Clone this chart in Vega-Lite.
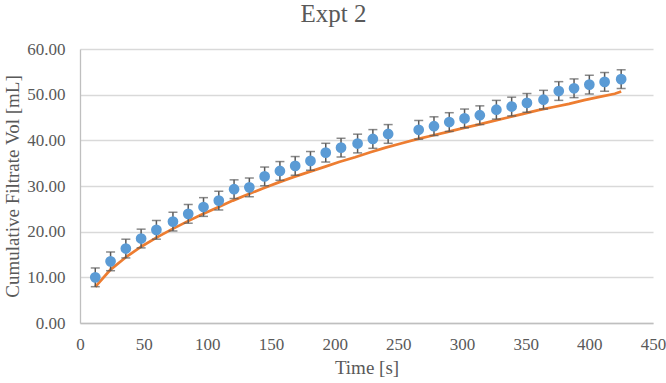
{
  "$schema": "https://vega.github.io/schema/vega-lite/v6.json",
  "width": 573,
  "height": 274,
  "autosize": {"type": "none"},
  "padding": {"left": 80, "top": 49, "right": 13, "bottom": 60},
  "background": "white",
  "title": {
    "text": "Expt 2",
    "font": "Liberation Serif",
    "fontSize": 25,
    "fontWeight": "normal",
    "color": "#595959",
    "anchor": "middle",
    "dx": -33,
    "offset": 13
  },
  "config": {
    "view": {"stroke": null},
    "axis": {
      "labelFont": "Liberation Serif",
      "titleFont": "Liberation Serif",
      "labelColor": "#595959",
      "titleColor": "#595959",
      "labelFontSize": 17,
      "titleFontSize": 19,
      "titleFontWeight": "normal",
      "labelFlush": false,
      "gridColor": "#D9D9D9",
      "gridWidth": 1.3,
      "domainColor": "#BFBFBF",
      "domainWidth": 1.3,
      "ticks": false
    }
  },
  "datasets": {
    "measured": [
      {"t": 12, "vol": 10.0, "err": 2.05},
      {"t": 24, "vol": 13.5, "err": 2.05},
      {"t": 36, "vol": 16.3, "err": 2.05},
      {"t": 48, "vol": 18.5, "err": 2.05},
      {"t": 60, "vol": 20.4, "err": 2.05},
      {"t": 73, "vol": 22.2, "err": 2.05},
      {"t": 85, "vol": 23.9, "err": 2.05},
      {"t": 97, "vol": 25.4, "err": 2.05},
      {"t": 109, "vol": 26.8, "err": 2.05},
      {"t": 121, "vol": 29.3, "err": 2.05},
      {"t": 133, "vol": 29.7, "err": 2.05},
      {"t": 145, "vol": 32.1, "err": 2.05},
      {"t": 157, "vol": 33.3, "err": 2.05},
      {"t": 169, "vol": 34.4, "err": 2.05},
      {"t": 181, "vol": 35.5, "err": 2.05},
      {"t": 193, "vol": 37.3, "err": 2.05},
      {"t": 205, "vol": 38.4, "err": 2.05},
      {"t": 218, "vol": 39.3, "err": 2.05},
      {"t": 230, "vol": 40.3, "err": 2.05},
      {"t": 242, "vol": 41.4, "err": 2.05},
      {"t": 266, "vol": 42.3, "err": 2.05},
      {"t": 278, "vol": 43.1, "err": 2.05},
      {"t": 290, "vol": 44.0, "err": 2.05},
      {"t": 302, "vol": 44.8, "err": 2.05},
      {"t": 314, "vol": 45.5, "err": 2.05},
      {"t": 327, "vol": 46.7, "err": 2.05},
      {"t": 339, "vol": 47.4, "err": 2.05},
      {"t": 351, "vol": 48.2, "err": 2.05},
      {"t": 364, "vol": 48.9, "err": 2.05},
      {"t": 376, "vol": 50.8, "err": 2.05},
      {"t": 388, "vol": 51.4, "err": 2.05},
      {"t": 400, "vol": 52.2, "err": 2.05},
      {"t": 412, "vol": 52.8, "err": 2.05},
      {"t": 425, "vol": 53.4, "err": 2.05}
    ],
    "model": [
      {"t": 12, "vol": 7.9},
      {"t": 24, "vol": 11.7},
      {"t": 36, "vol": 14.4},
      {"t": 48, "vol": 16.7},
      {"t": 60, "vol": 18.7},
      {"t": 72, "vol": 20.5},
      {"t": 84, "vol": 22.2},
      {"t": 96, "vol": 23.8},
      {"t": 108, "vol": 25.3},
      {"t": 120, "vol": 26.8},
      {"t": 132, "vol": 28.2},
      {"t": 144, "vol": 29.5},
      {"t": 156, "vol": 30.8},
      {"t": 168, "vol": 32.0},
      {"t": 180, "vol": 33.1},
      {"t": 192, "vol": 34.2},
      {"t": 204, "vol": 35.3},
      {"t": 216, "vol": 36.3},
      {"t": 228, "vol": 37.4},
      {"t": 240, "vol": 38.4},
      {"t": 252, "vol": 39.3},
      {"t": 264, "vol": 40.2},
      {"t": 276, "vol": 41.0},
      {"t": 288, "vol": 41.8},
      {"t": 300, "vol": 42.6},
      {"t": 312, "vol": 43.4},
      {"t": 324, "vol": 44.2},
      {"t": 336, "vol": 45.0},
      {"t": 348, "vol": 45.8},
      {"t": 360, "vol": 46.6},
      {"t": 372, "vol": 47.3},
      {"t": 384, "vol": 48.0},
      {"t": 396, "vol": 48.8},
      {"t": 408, "vol": 49.5},
      {"t": 420, "vol": 50.2},
      {"t": 425, "vol": 50.7}
    ]
  },
  "layer": [
    {
      "data": {"name": "model"},
      "mark": {"type": "line", "color": "#ED7D31", "strokeWidth": 2.75},
      "encoding": {
        "x": {
          "field": "t",
          "type": "quantitative",
          "title": "Time [s]",
          "scale": {"domain": [0, 450], "nice": false},
          "axis": {
            "values": [0, 50, 100, 150, 200, 250, 300, 350, 400, 450],
            "grid": false,
            "labelPadding": 13,
            "titlePadding": 6
          }
        },
        "y": {
          "field": "vol",
          "type": "quantitative",
          "title": "Cumulative Filtrate Vol [mL]",
          "scale": {"domain": [0, 60], "nice": false},
          "axis": {
            "values": [0, 10, 20, 30, 40, 50, 60],
            "format": ".2f",
            "labelPadding": 15,
            "titlePadding": 4
          }
        }
      }
    },
    {
      "data": {"name": "measured"},
      "mark": {
        "type": "errorbar",
        "ticks": {"color": "#595959", "size": 9, "thickness": 1.5},
        "rule": {"color": "#595959", "strokeWidth": 1.5}
      },
      "encoding": {
        "x": {"field": "t", "type": "quantitative", "title": "Time [s]"},
        "y": {"field": "vol", "type": "quantitative", "title": "Cumulative Filtrate Vol [mL]"},
        "yError": {"field": "err"}
      }
    },
    {
      "data": {"name": "measured"},
      "mark": {"type": "point", "filled": true, "opacity": 1, "color": "#5B9BD5", "size": 115},
      "encoding": {
        "x": {"field": "t", "type": "quantitative", "title": "Time [s]"},
        "y": {"field": "vol", "type": "quantitative", "title": "Cumulative Filtrate Vol [mL]"}
      }
    }
  ]
}
